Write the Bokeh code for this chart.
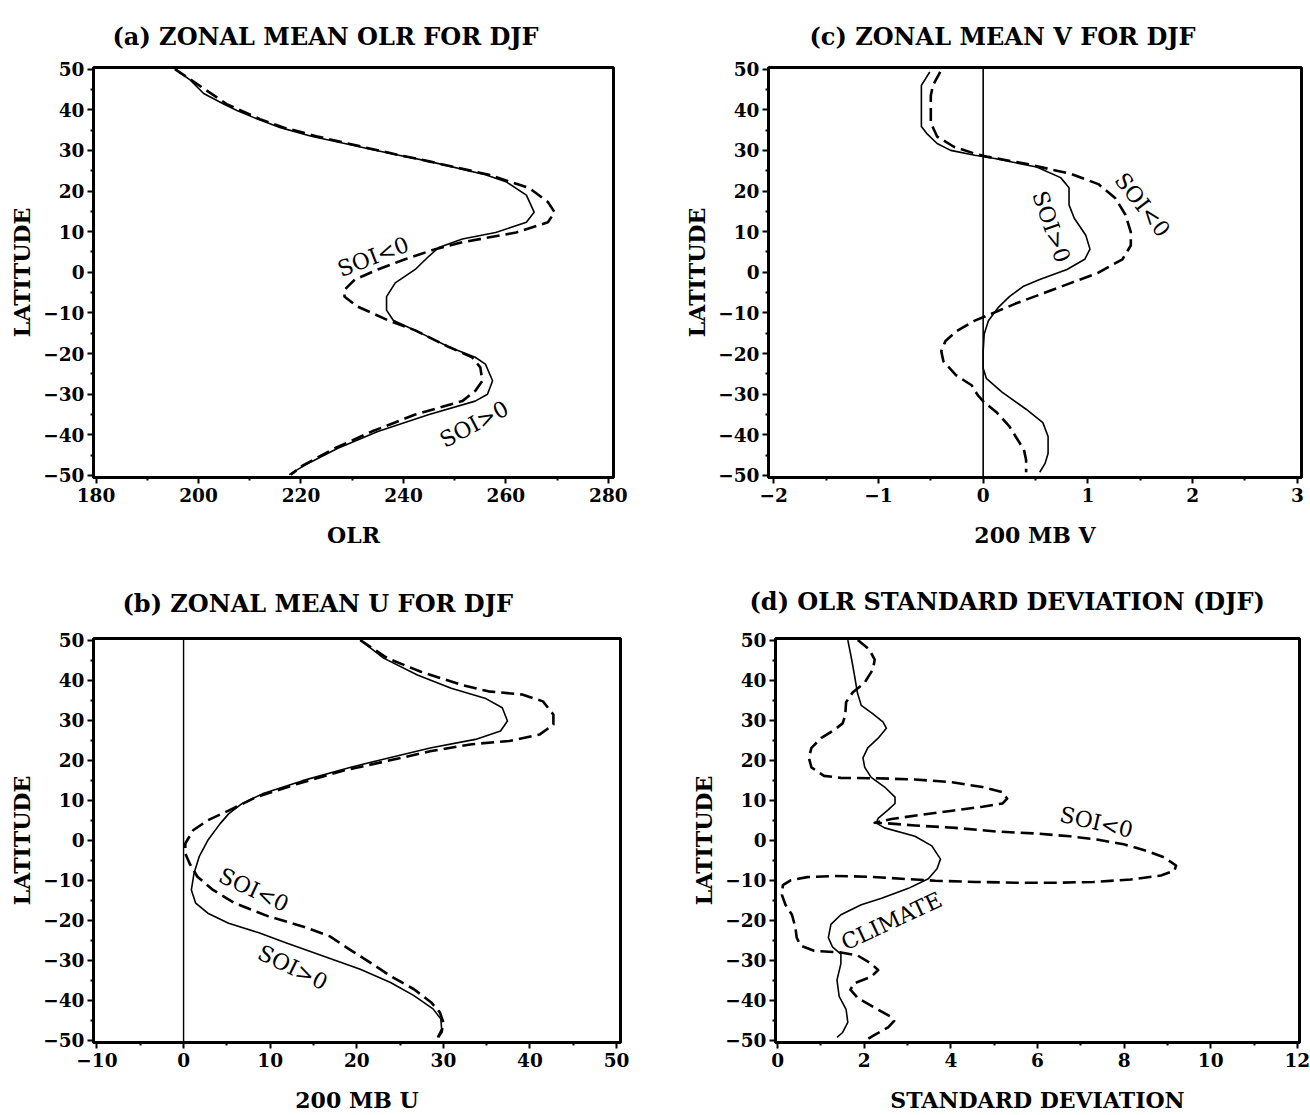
from bokeh.plotting import figure
from bokeh.layouts import column, row
from bokeh.models import Span, Label, Range1d, FixedTicker
from bokeh.embed import file_html
from bokeh.resources import INLINE

FONT = "DejaVu Serif"

# ---------------- (a) zonal mean OLR ----------------
olr_pos_lat = [50, 47.3, 44, 41.4, 39.8, 37.7, 35.6, 33.5, 31.5, 30.2, 29, 27.3, 24, 22.3, 19, 14.8, 12.3,
               9.8, 8.2, 6.1, 4, 0.7, -2.6, -6, -9.3, -11.8, -14.3, -18.4, -20.9, -22.6, -26.7, -30,
               -31.7, -35, -39.2, -43.3, -47.5, -49.8]
olr_pos = [195.4, 198.4, 201, 204.9, 207.5, 211.5, 216, 222, 229.2, 233.8, 238.4, 245, 256, 260, 264, 265.5, 264,
           258, 251.5, 246.9, 245, 242.3, 238.4, 236.7, 236.7, 238, 242.3, 248.9, 254, 256, 257.4, 256.4,
           254, 245, 235, 227.2, 220.7, 217.7]
olr_neg_lat = [50, 47.3, 41.4, 37.7, 35.6, 33.5, 31.5, 29, 27.3, 24, 20.7, 17.3, 14.8, 12.3, 9.8, 7.4, 5.7,
               3.2, 0.7, -1.8, -4.3, -6, -8.4, -11.8, -14.3, -18.4, -20.9, -23.4, -26.7, -29.2, -31.7,
               -35, -39.2, -43.3, -47.5, -49.8]
olr_neg = [195.4, 198.6, 205.5, 212, 216.7, 223, 229.8, 238.6, 245, 256.7, 264.6, 268.2, 269.5, 268.2, 262, 251.5, 246.2,
           240.3, 235, 230.5, 228.5, 228.5, 231, 237, 242.3, 248.9, 253.4, 255, 255.4, 254, 251.5,
           242.3, 233.8, 226.6, 220.4, 218]

# ---------------- (b) zonal mean U ----------------
u_pos_lat = [50, 45.5, 41.3, 38, 35.5, 33.1, 29.8, 27.3, 25.2, 23.1, 20.7, 18.2, 14.9, 11.6, 9.1, 6.6, 4.1, 0,
             -4.1, -8.3, -12.4, -15.7, -18.2, -20.7, -23.1, -25.6, -28.9, -32.2, -35.5, -38.8, -42.1, -44.6,
             -47.1, -49.2]
u_pos = [20.4, 23.1, 27, 30.9, 34.8, 36.8, 37.4, 36.6, 33.7, 28.6, 23.9, 19.2, 13.75, 9.1, 6.7, 5.2, 4.2, 2.8,
         1.8, 1.2, 0.9, 1.4, 2.8, 5.2, 8.7, 11.8, 16.1, 20.4, 23.9, 26.6, 28.8, 29.7,
         29.8, 29.3]
u_neg_lat = [50, 45.5, 42.1, 38.8, 37.2, 36.4, 34.7, 31.4, 28.9, 26.4, 24.8, 24, 22.3, 19.8, 17.4, 14, 10.7,
             7.4, 5, 2.5, -0.8, -3.3, -5.8, -9.1, -12.4, -15.7, -19, -21.5, -24, -27.3, -30.6, -33.9,
             -37.2, -40.5, -43, -45.5, -47.9, -49.2]
u_neg = [20.4, 23.5, 27.4, 32.1, 35.2, 39.1, 41.5, 42.7, 42.7, 41.1, 37.6, 33.3, 28.6, 23.5, 18.4, 13, 8.3,
         5.2, 2.8, 1.1, 0.2, 0.2, 0.7, 1.6, 3.4, 5.9, 9.8, 13.75, 16.9, 19.2, 21.6, 23.9,
         26.6, 28.6, 29.6, 30, 29.8, 29.4]

# ---------------- (c) zonal mean V ----------------
v_pos_lat = [49.3, 46, 43.5, 35.9, 34.2, 31.7, 30, 28.8, 28, 25.9, 23.3, 20.8, 16.6, 13.3, 9.1, 5.7, 3.2, 0.7,
             -1.8, -3.5, -6, -8.5, -11.9, -15.2, -19.4, -23.6, -26.1, -29.5, -33.7, -37, -40.4, -44.6,
             -47.1, -49.2]
v_pos = [-0.51, -0.59, -0.59, -0.59, -0.54, -0.44, -0.31, -0.08, 0.11, 0.51, 0.74, 0.82, 0.82, 0.87, 0.98, 1.02,
         0.97, 0.8, 0.54, 0.38, 0.25, 0.15, 0.05, 0.01, 0.0, 0.0, 0.03, 0.18, 0.41, 0.57, 0.62, 0.62,
         0.59, 0.54]
v_neg_lat = [49.3, 46, 43.5, 36.8, 33.4, 30.9, 29.2, 28.4, 26.7, 24.2, 21.7, 18.3, 14.1, 9.9, 6.6, 3.2, -0.1,
             -2.6, -5.2, -7.7, -10.2, -11.9, -14.4, -16.9, -19.4, -21.9, -25.3, -27.8, -30.3, -32, -34.5,
             -37.9, -40.4, -43.7, -46.2, -49.2]
v_neg = [-0.41, -0.48, -0.5, -0.5, -0.44, -0.28, -0.08, 0.05, 0.41, 0.84, 1.1, 1.26, 1.36, 1.41, 1.41, 1.33, 1.1,
         0.84, 0.57, 0.31, 0.08, -0.08, -0.25, -0.36, -0.4, -0.38, -0.26, -0.11, -0.05, 0.01, 0.13,
         0.25, 0.31, 0.39, 0.41, 0.41]

# ---------------- (d) OLR standard deviation ----------------
sd_clim_lat = [50, 45.1, 40.2, 36.9, 33.7, 31.6, 29.6, 28, 25.5, 23.1, 20.6, 18.2, 15.7, 13.3, 10.8, 9.2, 7.6,
               5.5, 4.3, 3.1, 1, -1.4, -4.7, -7.1, -9.6, -12, -14.5, -16.1, -18.6, -21, -24.3, -26.7,
               -28.4, -30.8, -34.9, -39, -42.2, -45.5, -48, -49.2]
sd_clim = [1.62, 1.71, 1.79, 1.84, 1.93, 2.2, 2.43, 2.51, 2.32, 2.08, 1.97, 2.01, 2.16, 2.47, 2.71, 2.71, 2.55,
           2.32, 2.28, 2.47, 3.17, 3.56, 3.76, 3.68, 3.48, 3.02, 2.4, 1.93, 1.46, 1.23, 1.17, 1.27,
           1.46, 1.46, 1.37, 1.42, 1.58, 1.62, 1.5, 1.37]
sd_neg_lat = [50, 47.6, 45.1, 42.7, 39.4, 36.9, 34.5, 31.2, 29.2, 27.6, 25.5, 23.1, 20.6, 18.2, 16.1, 15.6, 15.5,
              15.2, 14.5, 13.3, 12.0, 10.4, 9.2, 8.4, 7.4, 6.4, 5.3, 4.4, 4.3, 3.7, 3.1, 2.2, 1.7, 1.0,
              0.2, -1.0, -2.7, -4.3, -6.3, -7.6, -8.8, -9.8, -10.4, -10.6, -10.6, -10.4, -10.1, -9.6,
              -9.1, -8.9, -9.2, -10.0, -11.2, -13.7, -16.1, -18.6, -21.8, -24.3, -26.3, -27.6, -28.0,
              -28.8, -30.8, -32.4, -34.1, -35.7, -37.3, -39.4, -41.8, -43.9, -45.1, -46.7, -48.6, -49.6]
sd_neg = [1.85, 2.12, 2.24, 2.2, 2.01, 1.73, 1.58, 1.56, 1.5, 1.31, 1.0, 0.78, 0.72, 0.78, 1.07, 1.46, 2.24,
          3.17, 4.03, 4.73, 5.19, 5.3, 5.19, 4.73, 4.03, 3.33, 2.63, 2.24, 2.47, 3.17, 4.11, 5.04, 5.97, 6.75,
          7.37, 7.99, 8.54, 8.93, 9.2, 9.16, 8.85, 8.15, 7.29, 6.44, 5.51, 4.57, 3.64, 2.86,
          2.08, 1.31, 0.68, 0.3, 0.12, 0.1, 0.18, 0.33, 0.41, 0.44, 0.53, 0.84, 1.46,
          1.85, 2.16, 2.32, 2.16, 1.77, 1.68, 1.85, 2.24, 2.59, 2.69, 2.55, 2.24, 2.08]

lat_ticks = [-50, -40, -30, -20, -10, 0, 10, 20, 30, 40, 50]
lat_minor = [-45, -35, -25, -15, -5, 5, 15, 25, 35, 45]


def fmt(v):
    s = ("%g" % v)
    return s.replace("-", "\u2212")


def make_fig(title, xr, xticks, xminor, xlabel, w, h, bl, br, bt, bb, toff, tstand):
    p = figure(width=w, height=h, x_range=Range1d(*xr), y_range=Range1d(-50.5, 50.4),
               output_backend="svg", toolbar_location=None,
               min_border_left=bl, min_border_right=br, min_border_top=bt, min_border_bottom=bb)
    p.title.text = title
    p.title.align = "left"
    p.title.offset = toff
    p.title.standoff = tstand
    p.title.text_font = FONT
    p.title.text_font_size = "24px"
    p.title.text_font_style = "bold"
    p.title.text_color = "black"
    p.xgrid.visible = False
    p.ygrid.visible = False
    p.outline_line_color = "black"
    p.outline_line_width = 3
    p.outline_line_alpha = 1
    p.xaxis.ticker = FixedTicker(ticks=xticks, minor_ticks=xminor)
    p.yaxis.ticker = FixedTicker(ticks=lat_ticks, minor_ticks=lat_minor)
    p.xaxis.major_label_overrides = {t: fmt(t) for t in xticks}
    p.yaxis.major_label_overrides = {t: fmt(t) for t in lat_ticks}
    p.xaxis.axis_label = xlabel
    p.yaxis.axis_label = "LATITUDE"
    for ax in (p.xaxis[0], p.yaxis[0]):
        ax.axis_line_width = 3
        ax.axis_line_color = "black"
        ax.major_tick_in = 0
        ax.major_tick_out = 6
        ax.major_tick_line_width = 2
        ax.minor_tick_in = 0
        ax.minor_tick_out = 3
        ax.minor_tick_line_width = 2
        ax.major_label_text_font = FONT
        ax.major_label_text_font_style = "bold"
        ax.major_label_text_font_size = "18.5px"
        ax.major_label_text_color = "black"
        ax.axis_label_text_font = FONT
        ax.axis_label_text_font_style = "bold"
        ax.axis_label_text_font_size = "22px"
        ax.axis_label_text_color = "black"
    p.xaxis.major_label_standoff = 4
    p.xaxis.axis_label_standoff = 17
    p.yaxis.major_label_standoff = 3
    p.yaxis.axis_label_standoff = 5
    return p


def add_label(p, text, x, y, ang):
    p.add_layout(Label(x=x, y=y, text=text, angle=ang, angle_units="deg",
                       text_align="center", text_baseline="middle",
                       text_font=FONT, text_font_size="22px", text_color="black"))


SOLID_W = 1.6
DASH_W = 2.6
DASH = "13 6"

# (a)
pa = make_fig("(a) ZONAL MEAN OLR FOR DJF", (179.5, 281), [180, 200, 220, 240, 260, 280],
              [190, 210, 230, 250, 270], "OLR", 655, 557, 93, 42, 67, 80, 19, 33)
pa.line(olr_pos, olr_pos_lat, line_color="black", line_width=SOLID_W, line_join="round")
pa.line(olr_neg, olr_neg_lat, line_color="black", line_width=DASH_W, line_dash=DASH, line_join="round")
add_label(pa, "SOI<0", 234.1, 3.8, 21)
add_label(pa, "SOI>0", 253.8, -37.4, 28)

# (c)
pc = make_fig("(c) ZONAL MEAN V FOR DJF", (-2.05, 3.04), [-2, -1, 0, 1, 2, 3],
              [-1.5, -0.5, 0.5, 1.5, 2.5], "200 MB V", 655, 557, 113, 9, 66, 76, 41, 34)
pc.add_layout(Span(location=0, dimension="height", line_color="black", line_width=1.6))
pc.line(v_pos, v_pos_lat, line_color="black", line_width=SOLID_W, line_join="round")
pc.line(v_neg, v_neg_lat, line_color="black", line_width=DASH_W, line_dash=DASH, line_join="round")
add_label(pc, "SOI>0", 0.65, 11.2, -71)
add_label(pc, "SOI<0", 1.52, 16.6, -52)

# (b)
pb = make_fig("(b) ZONAL MEAN U FOR DJF", (-10.4, 50.45), [-10, 0, 10, 20, 30, 40, 50],
              [-5, 5, 15, 25, 35, 45], "200 MB U", 655, 558, 93, 35, 81, 70, 29, 42)
pb.add_layout(Span(location=0, dimension="height", line_color="black", line_width=1.4))
pb.line(u_pos, u_pos_lat, line_color="black", line_width=SOLID_W, line_join="round")
pb.line(u_neg, u_neg_lat, line_color="black", line_width=DASH_W, line_dash=DASH, line_join="round")
add_label(pb, "SOI<0", 8.1, -12.4, -25)
add_label(pb, "SOI>0", 12.6, -31.8, -26)

# (d)
pd_ = make_fig("(d) OLR STANDARD DEVIATION (DJF)", (-0.05, 12.05), [0, 2, 4, 6, 8, 10, 12],
               [1, 3, 5, 7, 9, 11], "STANDARD DEVIATION", 655, 558, 120, 11, 78, 68, -26, 46)
pd_.line(sd_clim, sd_clim_lat, line_color="black", line_width=SOLID_W, line_join="round")
pd_.line(sd_neg, sd_neg_lat, line_color="black", line_width=DASH_W, line_dash=DASH, line_join="round")
add_label(pd_, "SOI<0", 7.36, 4.5, -13)
add_label(pd_, "CLIMATE", 2.63, -20.2, 25)

layout = column(row(pa, pc), row(pb, pd_))
open("out.html", "w").write(file_html(layout, INLINE))
